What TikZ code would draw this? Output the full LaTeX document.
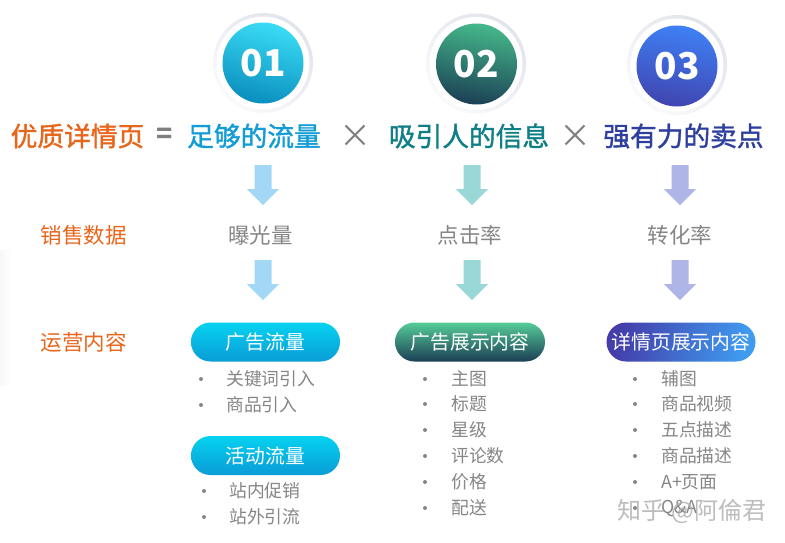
\documentclass[tikz,border=0pt]{standalone}
\usepackage{fontspec}
\setmainfont{Noto Sans CJK SC}
\newfontfamily\headfont[FakeBold=1.4]{Noto Sans CJK SC}
\usetikzlibrary{shadings}
\definecolor{orangeT}{HTML}{E8661C}
\definecolor{blueT}{HTML}{149CD6}
\definecolor{tealT}{HTML}{0F7F86}
\definecolor{indigoT}{HTML}{2F3F9F}
\definecolor{grayT}{HTML}{7F7F7F}
\definecolor{grayL}{HTML}{868686}
\definecolor{aBlue}{HTML}{A2D8F5}
\definecolor{aTeal}{HTML}{9AD8D8}
\definecolor{aIndigo}{HTML}{B0B5E8}
\definecolor{ringA}{HTML}{E2E4EC}
\definecolor{ringB}{HTML}{FAFAFC}
\definecolor{c1t}{HTML}{3ADCF5}\definecolor{c1m}{HTML}{10B2E2}\definecolor{c1b}{HTML}{0A8EBE}
\definecolor{c2t}{HTML}{45B88A}\definecolor{c2m}{HTML}{10757A}\definecolor{c2b}{HTML}{1B4055}
\definecolor{c3t}{HTML}{3F80F5}\definecolor{c3m}{HTML}{4848F5}\definecolor{c3b}{HTML}{4045B0}
\definecolor{p1t}{HTML}{05D2F0}\definecolor{p1m}{HTML}{08B8E4}\definecolor{p1b}{HTML}{0A9CD6}
\definecolor{p3t}{HTML}{55CC98}\definecolor{p3m}{HTML}{127C80}\definecolor{p3b}{HTML}{1C3E55}
\definecolor{p4l}{HTML}{443DAA}\definecolor{p4m}{HTML}{5050F0}\definecolor{p4r}{HTML}{3F9BF0}
\tikzset{
  x=1pt,y=-1pt,
  head/.style={font=\fontsize{26.7}{30}\headfont,inner sep=0pt,anchor=center},
  sub/.style={font=\fontsize{21.5}{26}\selectfont,inner sep=0pt,anchor=center},
  itemtext/.style={font=\fontsize{17.8}{22}\selectfont,text=grayL,inner sep=0pt,anchor=west},
  dotmark/.style={circle,fill=grayL,inner sep=0pt,minimum size=4pt},
  pill/.style={rounded corners=19.5pt,minimum width=#1,minimum height=39pt,inner sep=0pt,text=white,font=\fontsize{19.8}{24}\selectfont,anchor=center},
  ring/.style={circle,minimum size=100pt,inner sep=0pt,top color=ringA,bottom color=ringB,shading angle=-40},
  ringin/.style={circle,minimum size=93pt,inner sep=0pt,fill=white},
  ball/.style={circle,minimum size=81pt,inner sep=0pt,text=white,font=\fontsize{37}{44}\selectfont\bfseries},
  pics/downarrow/.style={code={\fill[#1] (-8.5,0)--(8.5,0)--(8.5,24)--(16,24)--(0,40)--(-16,24)--(-8.5,24)--cycle;}}
}
\begin{document}
\begin{tikzpicture}
\useasboundingbox (0,0) rectangle (785,542);
\fill[white] (0,0) rectangle (785,542);
\fill[left color=black!3,right color=white] (0,250) rectangle (12,385);
% rings and balls
\node[ring] (r1) at (263,63) {};
\node[ring] (r2) at (476,63.5) {};
\node[ring] (r3) at (677,65) {};
\node[ringin] (q1) at (263,63) {};
\node[ringin] (q2) at (476,63.5) {};
\node[ringin] (q3) at (677,65) {};
\node[ball,top color=c1t,middle color=c1m,bottom color=c1b,shading angle=-15] (b1) at (263,63) {01};
\node[ball,top color=c2t,middle color=c2m,bottom color=c2b,shading angle=-10] (b2) at (476.5,64) {02};
\node[ball,top color=c3t,middle color=c3m,bottom color=c3b,shading angle=-10] (b3) at (677,66) {03};
% headline
\node[head,text=orangeT] (t0) at (77.5,136) {优质详情页};
\node[font=\fontsize{26.7}{30}\selectfont\bfseries,inner sep=0pt,text=grayT] (eq) at (165,136) {=};
\node[head,text=blueT] (t1) at (254,136) {足够的流量};
\node[font=\fontsize{32}{34}\selectfont,text=grayT,inner sep=0pt] (x1) at (355,136) {×};
\node[head,text=tealT] (t2) at (469,136) {吸引人的信息};
\node[font=\fontsize{32}{34}\selectfont,text=grayT,inner sep=0pt] (x2) at (575,136) {×};
\node[head,text=indigoT] (t3) at (683.5,136) {强有力的卖点};
% arrows
\pic at (263,165) {downarrow=aBlue};
\pic at (263,260) {downarrow=aBlue};
\pic at (472,165) {downarrow=aTeal};
\pic at (472,260) {downarrow=aTeal};
\pic at (680,165) {downarrow=aIndigo};
\pic at (680,260) {downarrow=aIndigo};
% row labels
\node[sub,text=orangeT] (l1) at (83.5,235) {销售数据};
\node[sub,text=orangeT] (l2) at (83.5,342) {运营内容};
\node[sub,text=grayL] (m1) at (260.5,235) {曝光量};
\node[sub,text=grayL] (m2) at (470,235) {点击率};
\node[sub,text=grayL] (m3) at (680,235) {转化率};
% pills
\node[pill=149pt,top color=p1t,middle color=p1m,bottom color=p1b] (p1) at (265.5,342) {广告流量};
\node[pill=149pt,top color=p1t,middle color=p1m,bottom color=p1b] (p2) at (265.5,455.5) {活动流量};
\node[pill=150pt,top color=p3t,middle color=p3m,bottom color=p3b] (p3) at (470,342) {广告展示内容};
\node[pill=149pt,left color=p4l,middle color=p4m,right color=p4r,shading angle=75] (p4) at (681,342) {详情页展示内容};
% lists
\foreach \name/\by/\txt in {a/379/关键词引入,b/405/商品引入}{
  \node[dotmark] (d\name) at (201,\by) {};
  \node[itemtext] (i\name) at (226,\by) {\txt};
}
\foreach \name/\by/\txt in {c/491/站内促销,d/517/站外引流}{
  \node[dotmark] (d\name) at (204,\by) {};
  \node[itemtext] (i\name) at (229,\by) {\txt};
}
\foreach \name/\by/\txt in {e/379/主图,f/404/标题,g/430/星级,h/456/评论数,i/482/价格,j/508/配送}{
  \node[dotmark] (d\name) at (425,\by) {};
  \node[itemtext] (i\name) at (451,\by) {\txt};
}
\foreach \name/\by/\txt in {k/379/辅图,l/404/商品视频,m/430/五点描述,n/456/商品描述,o/482/A+页面,p/508/Q\&A}{
  \node[dotmark] (d\name) at (635,\by) {};
  \node[itemtext] (i\name) at (661,\by) {\txt};
}
% watermark
\node[inner sep=0pt,font=\fontsize{24}{26}\selectfont,text=black!32,opacity=.8] (wm) at (692,511) {知乎 @阿倫君};
\end{tikzpicture}
\end{document}
